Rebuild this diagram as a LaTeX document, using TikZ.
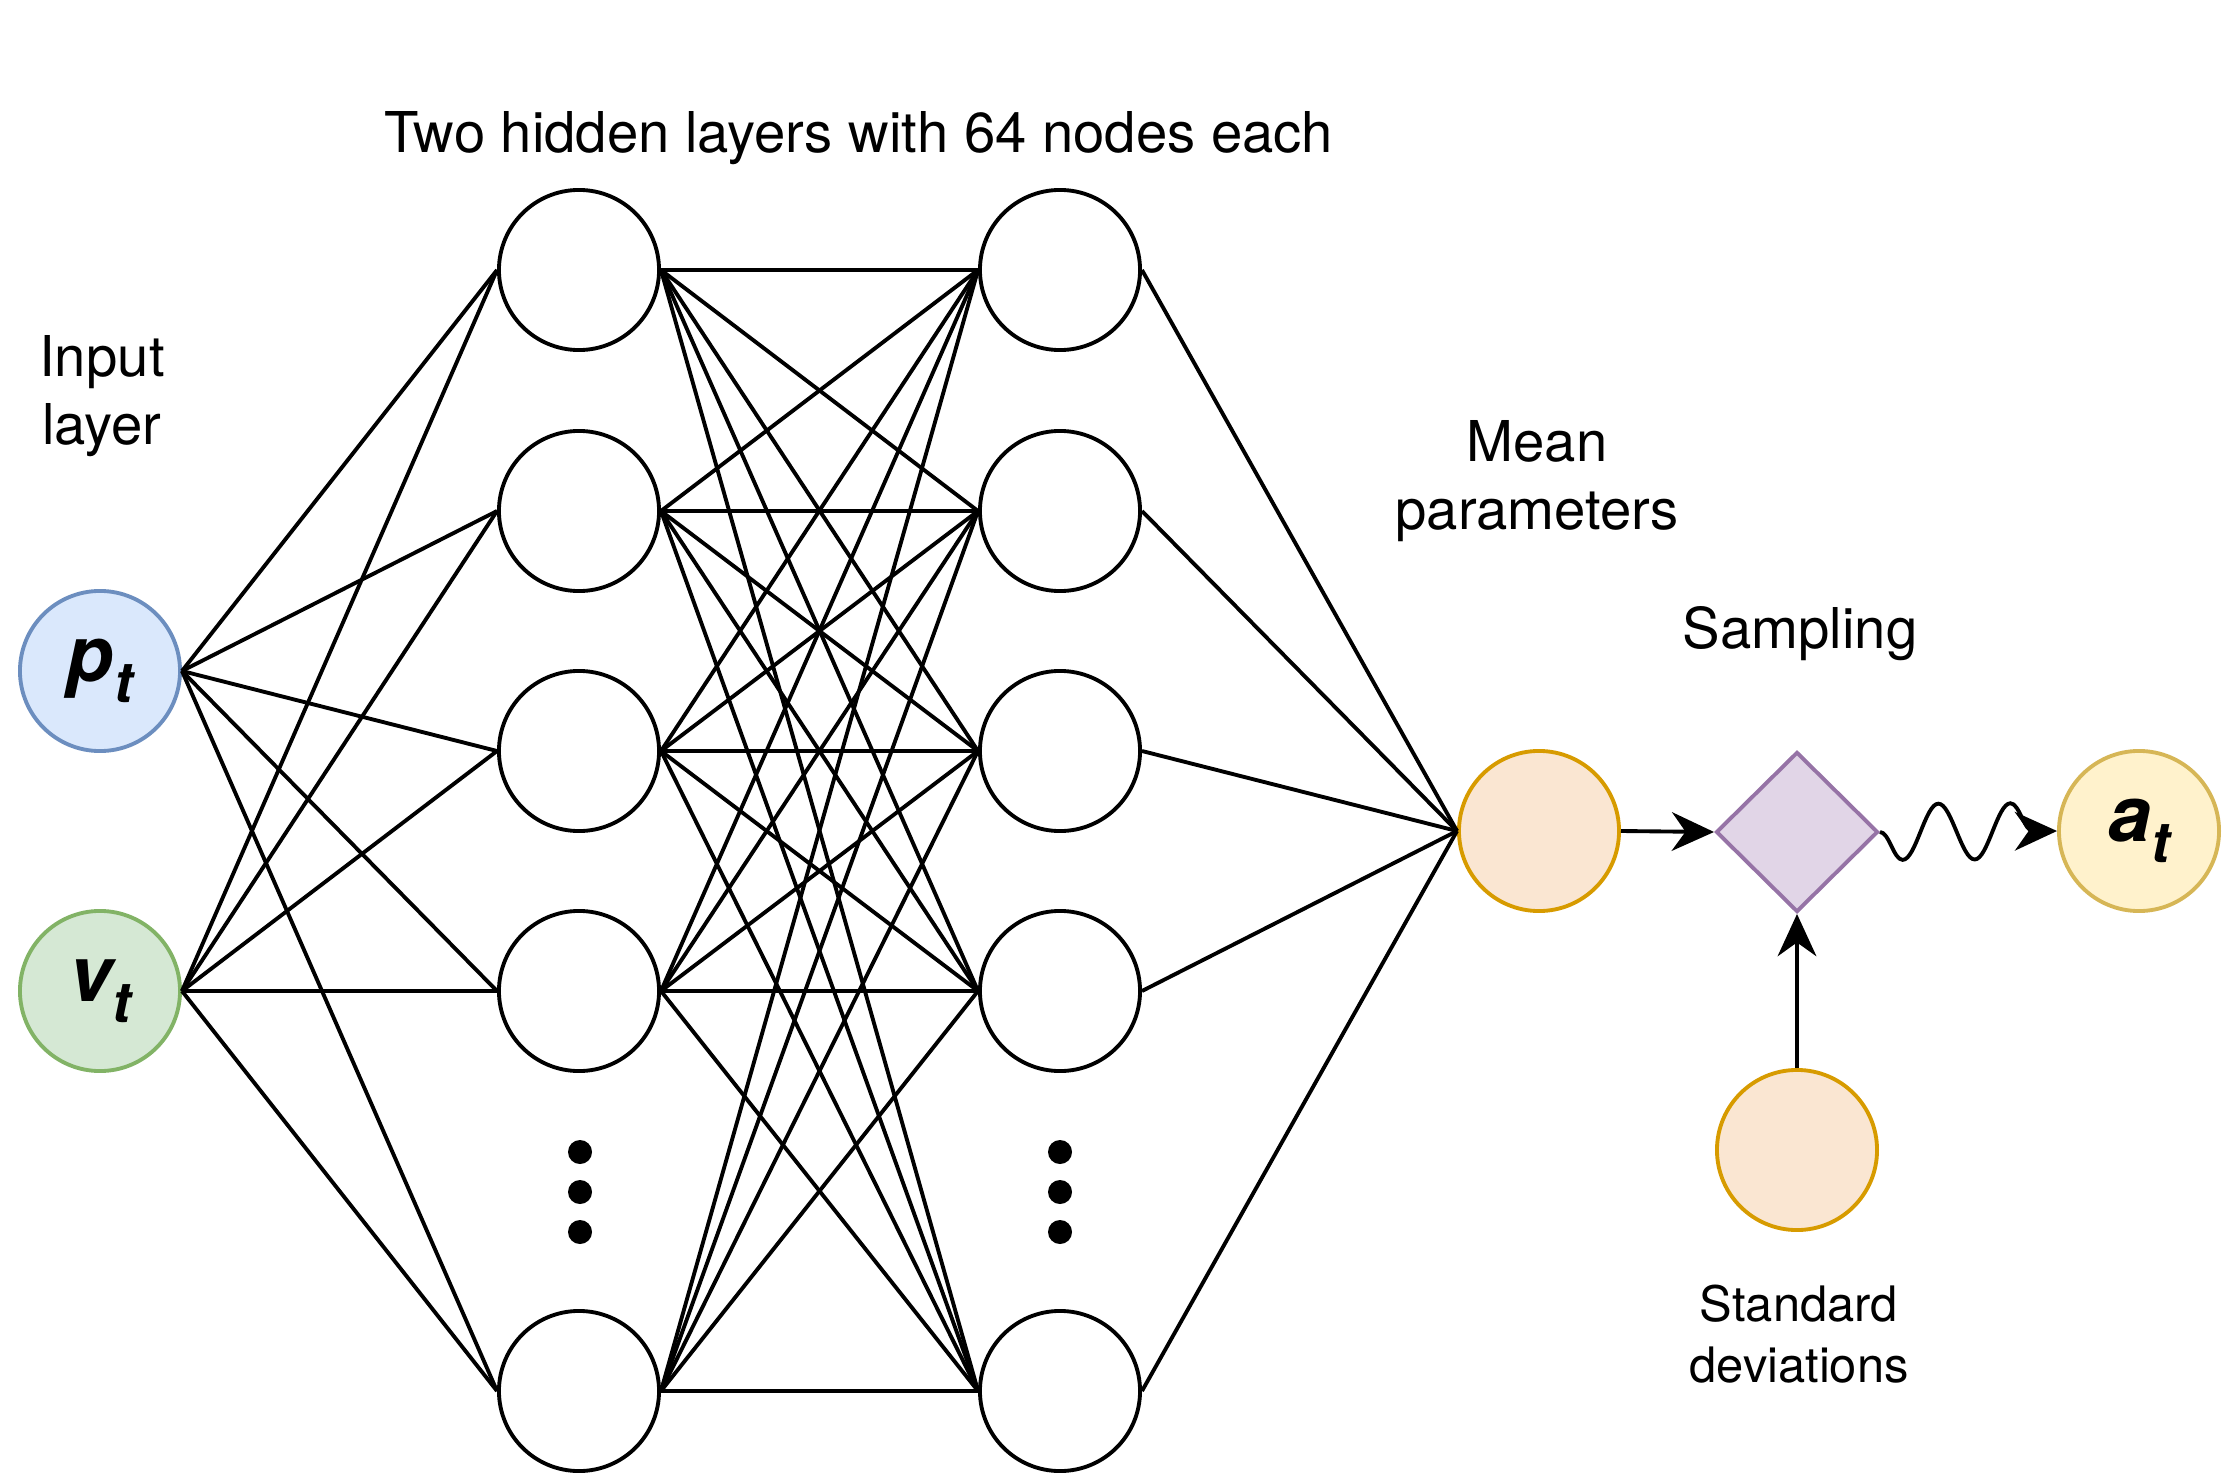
\documentclass[tikz,border=0pt]{standalone}
\usepackage{fontspec}
\setmainfont{TeX Gyre Heros}
\usetikzlibrary{arrows.meta,shapes.geometric,decorations.pathmorphing}

\definecolor{bluefill}{HTML}{DAE8FC}
\definecolor{blueline}{HTML}{6C8EBF}
\definecolor{greenfill}{HTML}{D5E8D4}
\definecolor{greenline}{HTML}{82B366}
\definecolor{orangefill}{HTML}{FAE6D2}
\definecolor{orangeline}{HTML}{D79B00}
\definecolor{purplefill}{HTML}{E1D5E7}
\definecolor{purpleline}{HTML}{9673A6}
\definecolor{yellowfill}{HTML}{FFF2CC}
\definecolor{yellowline}{HTML}{D6B656}

\newcommand{\lowsub}[1]{\raisebox{-0.5ex}{\fontsize{16}{16}\selectfont #1}}

\begin{document}
\begin{tikzpicture}[x=0.01cm,y=-0.01cm,line width=1.1pt,
  neuron/.style={circle,draw,fill=white,minimum size=1.6cm,inner sep=0pt},
  varname/.style={font=\fontsize{22}{22}\selectfont\bfseries\itshape},
  caption/.style={font=\fontsize{16}{19.3}\selectfont,align=center},
  tip/.style={-{Stealth[length=12pt,width=11pt]}}]
\useasboundingbox (0,0) rectangle (2230,1482);

% Input layer
\node[neuron,fill=bluefill,draw=blueline,varname] (p) at (100,671) {p\lowsub{t}};
\node[neuron,fill=greenfill,draw=greenline,varname] (v) at (100,991) {v\lowsub{t}};

% Hidden layers
\foreach \i/\y in {1/270,2/511,3/751,4/991,5/1391} {
  \node[neuron] (ha\i) at (579,\y) {};
  \node[neuron] (hb\i) at (1060,\y) {};
}
\foreach \x in {580,1060} {
  \fill (\x,1152) circle (0.12cm);
  \fill (\x,1192) circle (0.12cm);
  \fill (\x,1232) circle (0.12cm);
}

% Output side
\node[neuron,fill=orangefill,draw=orangeline] (mean) at (1539,831) {};
\node[diamond,draw=purpleline,fill=purplefill,minimum width=1.62cm,minimum height=1.6cm,inner sep=0pt] (samp) at (1797,832) {};
\node[neuron,fill=yellowfill,draw=yellowline,varname] (act) at (2139,831) {a\lowsub{t}};
\node[neuron,fill=orangefill,draw=orangeline] (std) at (1797,1150) {};

% Weights
\foreach \a in {p,v}
  \foreach \b in {1,...,5}
    \draw (\a.east) -- (ha\b.west);
\foreach \a in {1,...,5}
  \foreach \b in {1,...,5}
    \draw (ha\a.east) -- (hb\b.west);
\foreach \a in {1,...,5}
  \draw (hb\a.east) -- (mean.west);

% Sampling
\draw[tip] (mean.east) -- (samp.west);
\draw[tip] (std.north) -- (samp.south);
\draw[tip,decorate,decoration={snake,amplitude=0.28cm,segment length=0.72cm,post length=0.05cm,mirror}] (samp.east) -- (act.west);

% Labels
\node[caption] (title) at (859,138) {Two hidden layers with 64 nodes each};
\node[caption] (inlbl) at (102,396) {Input\\layer};
\node[caption] (meanlbl) at (1537,481) {Mean\\parameters};
\node[caption] (samplbl) at (1800,634) {Sampling};
\node[caption,font=\fontsize{13.9}{17.2}\selectfont] (stdlbl) at (1799,1334) {Standard\\deviations};
\end{tikzpicture}
\end{document}
